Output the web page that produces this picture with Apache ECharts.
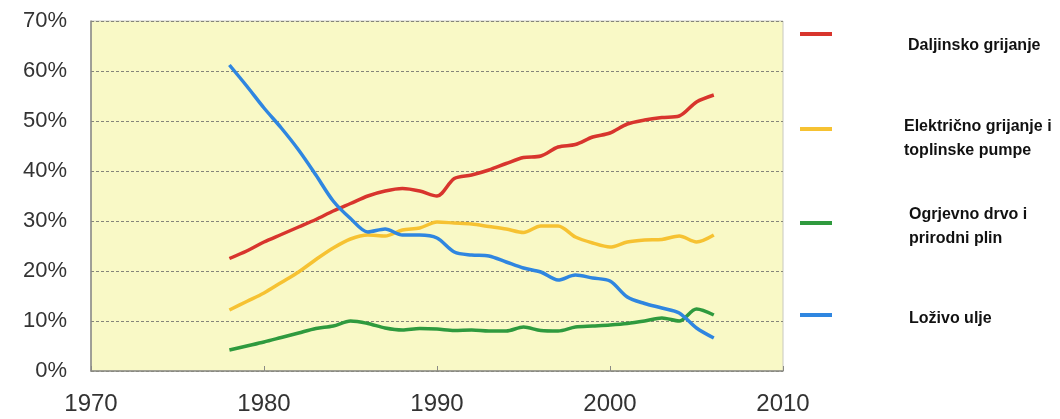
<!DOCTYPE html>
<html>
<head>
<meta charset="utf-8">
<script src="https://cdn.jsdelivr.net/npm/echarts@6/dist/echarts.min.js"></script>
<style>
  html, body { margin: 0; padding: 0; background: #fff; }
  #chart { width: 1060px; height: 419px; }
</style>
</head>
<body>
<div id="chart"></div>
<script>
// godine (1978 - 2006)
const years = [1978, 1979, 1980, 1981, 1982, 1983, 1984, 1985, 1986, 1987,
  1988, 1989, 1990, 1991, 1992, 1993, 1994, 1995, 1996, 1997,
  1998, 1999, 2000, 2001, 2002, 2003, 2004, 2005, 2006];

const daljinsko = [22.5, 24.0, 25.8, 27.3, 28.8, 30.3, 32.0, 33.5, 35.0, 36.0,
  36.5, 36.0, 35.0, 38.5, 39.2, 40.2, 41.5, 42.7, 43.0, 44.8,
  45.3, 46.8, 47.6, 49.4, 50.2, 50.7, 51.0, 53.8, 55.2];
const elektricno = [12.2, 13.9, 15.6, 17.7, 19.8, 22.3, 24.6, 26.4, 27.2, 27.0,
  28.2, 28.6, 29.8, 29.6, 29.4, 28.9, 28.4, 27.7, 29.0, 29.0,
  26.8, 25.6, 24.8, 25.8, 26.2, 26.3, 27.0, 25.8, 27.2];
const ogrjevno = [4.2, 5.0, 5.8, 6.7, 7.6, 8.5, 9.0, 10.0, 9.5, 8.6,
  8.2, 8.5, 8.4, 8.1, 8.2, 8.0, 8.0, 8.8, 8.1, 8.0,
  8.8, 9.0, 9.2, 9.5, 10.0, 10.6, 10.0, 12.4, 11.2];
const lozivo = [61.2, 57.0, 52.6, 48.6, 44.2, 39.2, 34.0, 30.5, 27.8, 28.4,
  27.2, 27.2, 26.6, 23.8, 23.2, 23.0, 21.8, 20.6, 19.8, 18.2,
  19.2, 18.6, 18.0, 14.8, 13.5, 12.6, 11.6, 8.6, 6.6];

const seriesNames = ['Daljinsko grijanje', 'Električno grijanje i toplinske pumpe',
  'Ogrjevno drvo i prirodni plin', 'Loživo ulje'];
const legendLabels = ['Daljinsko grijanje', 'Električno grijanje i\ntoplinske pumpe',
  'Ogrjevno drvo i\nprirodni plin', 'Loživo ulje'];
const colors = ['#d8352d', '#f6c232', '#2f9a3e', '#2f86e0'];

const myChart = echarts.init(document.getElementById('chart'));

function pairs(values) {
  return years.map((y, i) => [y, values[i]]);
}

// legenda: ikona lijevo, tekst pomaknut desno i malo dolje (rich tekst postuje padding)
const legendPos = [
  { top: 27, padTop: 24, padLeft: 71 },
  { top: 114, padTop: 20, padLeft: 67 },
  { top: 202, padTop: 8, padLeft: 72 },
  { top: 306, padTop: 8, padLeft: 72 }
];

const option = {
  color: colors,
  animation: false,
  grid: {
    left: 91,
    right: 277,
    top: 21,
    bottom: 48,
    show: true,
    backgroundColor: '#f9f9c6',
    borderColor: '#c8c8c0',
    borderWidth: 1
  },
  legend: seriesNames.map((name, i) => ({
    data: [name],
    left: 795,
    top: legendPos[i].top,
    orient: 'vertical',
    icon: 'rect',
    itemWidth: 32,
    itemHeight: 4,
    itemGap: 0,
    selectedMode: false,
    formatter: () => '{t|' + legendLabels[i] + '}',
    textStyle: {
      padding: [legendPos[i].padTop, 0, 0, legendPos[i].padLeft],
      rich: {
        t: {
          fontFamily: 'Liberation Sans, Arial, sans-serif',
          fontSize: 16,
          fontWeight: 'bold',
          color: '#111',
          lineHeight: 24
        }
      }
    }
  })),
  xAxis: {
    type: 'value',
    min: 1970,
    max: 2010,
    interval: 10,
    axisLine: { lineStyle: { color: '#8a8a84', width: 1.5 } },
    axisTick: { show: true, inside: true, length: 5, lineStyle: { color: '#8a8a84' } },
    splitLine: { show: false },
    axisLabel: {
      margin: 21,
      formatter: v => String(v),
      fontFamily: 'Liberation Sans, Arial, sans-serif',
      fontSize: 24,
      color: '#333'
    }
  },
  yAxis: {
    type: 'value',
    min: 0,
    max: 70,
    interval: 10,
    axisLine: { show: true, lineStyle: { color: '#8a8a84', width: 1.5 } },
    axisTick: { show: false },
    splitLine: { lineStyle: { color: '#85857a', type: [3, 2], width: 1 } },
    axisLabel: {
      margin: 24,
      formatter: '{value}%',
      fontFamily: 'Liberation Sans, Arial, sans-serif',
      fontSize: 22,
      color: '#333'
    }
  },
  series: [daljinsko, elektricno, ogrjevno, lozivo].map((vals, i) => ({
    name: seriesNames[i],
    type: 'line',
    data: pairs(vals),
    showSymbol: false,
    smooth: 0.3,
    lineStyle: { width: 3.5, color: colors[i] },
    itemStyle: { color: colors[i] }
  }))
};

myChart.setOption(option);
</script>
</body>
</html>
